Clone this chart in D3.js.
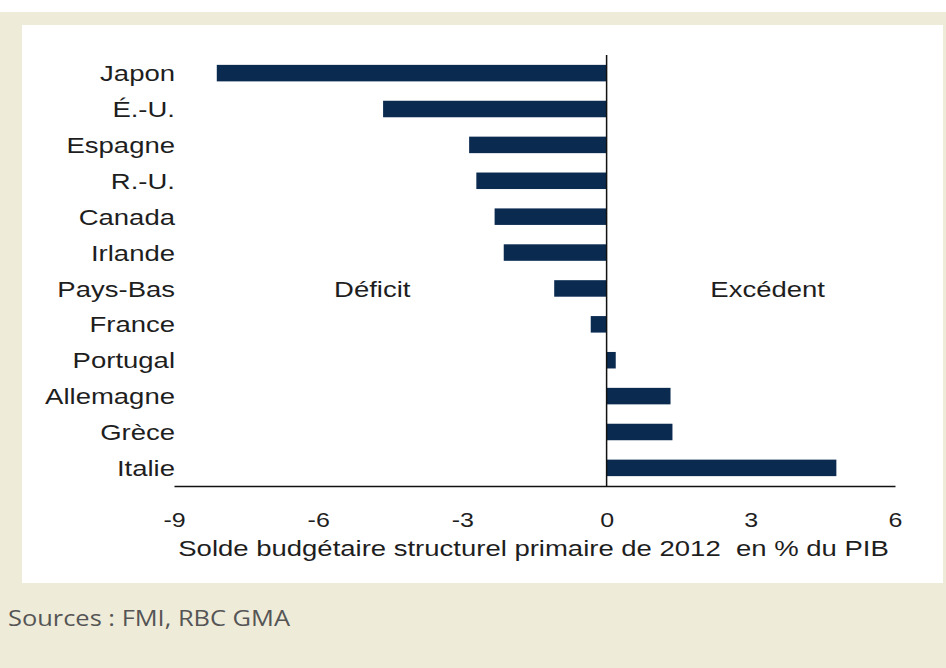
<!DOCTYPE html>
<html lang="fr">
<head>
    <meta charset="UTF-8" />
    <title>Solde budgétaire structurel primaire 2012</title>
    <script src="https://d3js.org/d3.v7.min.js"></script>
    <style>
        body {
            margin: 0;
            background: #ffffff;
        }
        svg text {
            font-family: "Liberation Sans", Arial, sans-serif;
            fill: #1e1e1e;
        }
        .source {
            font-family: "Open Sans", "Noto Sans", sans-serif !important;
            fill: #555 !important;
        }
    </style>
</head>
<body>
<svg id="chart" width="946" height="668"></svg>
<script>
    // Données
    const pays = ["Japon", "É.-U.", "Espagne", "R.-U.", "Canada", "Irlande",
        "Pays-Bas", "France", "Portugal", "Allemagne", "Grèce", "Italie"];
    const solde = [-8.11, -4.65, -2.86, -2.71, -2.33, -2.14,
        -1.09, -0.33, 0.19, 1.33, 1.37, 4.78];
    const ticks = [-9, -6, -3, 0, 3, 6];
    const titreAxe = "Solde budgétaire structurel primaire de 2012  en % du PIB";
    const zones = [{ label: "Déficit", x: -4.875 }, { label: "Excédent", x: 3.35 }];
    const source = "Sources : FMI, RBC GMA";

    const data = pays.map((p, i) => ({ pays: p, valeur: solde[i] }));

    const svg = d3.select("#chart");
    const sx = 1.25; // le texte de l'original est étiré horizontalement

    // fond beige + panneau blanc
    svg.append("rect").attr("x", 0).attr("y", 12).attr("width", 946).attr("height", 656).attr("fill", "#efebd9");
    svg.append("rect").attr("x", 22).attr("y", 25).attr("width", 921).attr("height", 558).attr("fill", "#ffffff");

    // Échelles
    const x = d3.scaleLinear().domain([-9, 6]).range([174, 895]);
    const y = d3.scaleBand().domain(pays).range([55, 486]).paddingInner(0.54).paddingOuter(0.275);

    // barres
    svg.selectAll(".bar")
        .data(data)
        .enter()
        .append("rect")
        .attr("class", "bar")
        .attr("x", d => x(Math.min(0, d.valeur)))
        .attr("width", d => Math.abs(x(d.valeur) - x(0)))
        .attr("y", d => y(d.pays))
        .attr("height", y.bandwidth())
        .attr("fill", "#0b2a50");

    // ligne du zéro
    svg.append("line")
        .attr("x1", x(0)).attr("x2", x(0))
        .attr("y1", 55).attr("y2", 486)
        .attr("stroke", "#111").attr("stroke-width", 1.5);

    // axe horizontal (tirets simples comme l'original)
    const xAxis = svg.append("g")
        .attr("transform", "translate(0,486)")
        .call(d3.axisBottom(x).tickValues(ticks).tickSize(0).tickSizeOuter(0).tickFormat(d => String(d)));
    xAxis.select(".domain").attr("stroke", "#111").attr("stroke-width", 1.5);
    xAxis.selectAll("text")
        .attr("y", 41).attr("dy", 0)
        .attr("font-size", 20)
        .attr("transform", `scale(${sx},1)`)
        .style("fill", "#1e1e1e");

    // axe des catégories
    const yAxis = svg.append("g")
        .attr("transform", "translate(175,0)")
        .call(d3.axisLeft(y).tickSize(0).tickPadding(0));
    yAxis.select(".domain").remove();
    yAxis.selectAll("text")
        .attr("x", 0).attr("dy", "0.37em")
        .attr("font-size", 22)
        .attr("transform", `scale(${sx},1)`)
        .style("fill", "#1e1e1e");

    // titre de l'axe
    svg.append("g")
        .attr("transform", `translate(${(x(-9) + x(6)) / 2 - 1},556) scale(${sx},1)`)
        .append("text")
        .attr("text-anchor", "middle")
        .attr("font-size", 22)
        .style("white-space", "pre")
        .text(titreAxe);

    // Déficit / Excédent
    svg.selectAll(".zone")
        .data(zones)
        .enter()
        .append("g")
        .attr("class", "zone")
        .attr("transform", d => `translate(${x(d.x)},${y("Pays-Bas") + y.bandwidth() / 2}) scale(${sx},1)`)
        .append("text")
        .attr("text-anchor", "middle")
        .attr("dy", "0.37em")
        .attr("font-size", 22)
        .text(d => d.label);

    // source
    svg.append("text")
        .attr("class", "source")
        .attr("x", 8)
        .attr("y", 626)
        .attr("font-size", 22)
        .attr("textLength", 282)
        .attr("lengthAdjust", "spacingAndGlyphs")
        .text(source);
</script>
</body>
</html>
